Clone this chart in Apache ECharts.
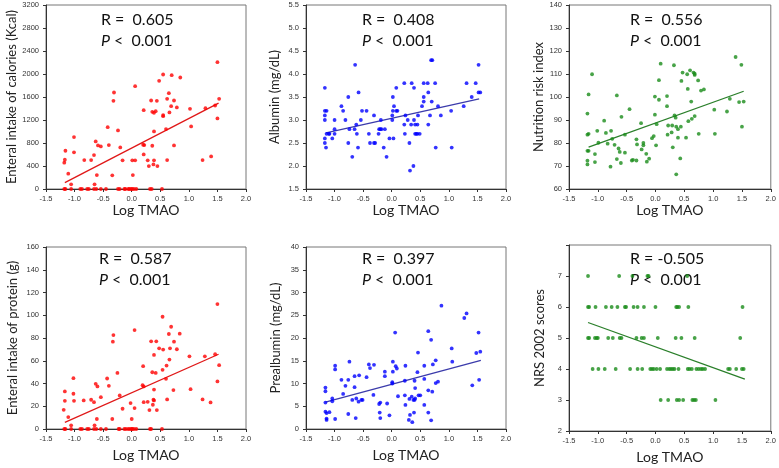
<!DOCTYPE html>
<html>
<head>
<meta charset="utf-8">
<script src="https://cdn.jsdelivr.net/npm/echarts@6/dist/echarts.min.js"></script>
<style>
  html, body { margin: 0; padding: 0; background: #fff; }
  #chart { width: 779px; height: 468px; }
</style>
</head>
<body>
<div id="chart"></div>
<script>
// x = Log TMAO, y = outcome
const calPoints = [
  [-1.18, 457], [-1.17, 509], [-1.16, 665], [-1.18, 0], [-1.16, 0], [-1.11, 266], [-1.06, 81], [-1.06, 0],
  [-1.01, 903], [-1.01, 637], [-0.90, 0], [-0.87, 0], [-0.83, 503], [-0.78, 0], [-0.75, 0], [-0.71, 503],
  [-0.66, 590], [-0.65, 81], [-0.63, 828], [-0.61, 243], [-0.59, 758], [-0.66, 0], [-0.62, 0], [-0.54, 741],
  [-0.54, 0], [-0.45, 0], [-0.42, 1076], [-0.40, 764], [-0.34, 237], [-0.32, 1534], [-0.31, 1678], [-0.24, 1019],
  [-0.24, 0], [-0.21, 0], [-0.20, 723], [-0.16, 498], [-0.13, 0], [-0.11, 0], [-0.06, 0], [-0.04, 0],
  [-0.01, 0], [0.01, 0], [0.04, 0], [0.08, 0], [0.01, 498], [0.02, 243], [0.06, 498], [0.06, 1788],
  [0.21, 1371], [0.20, 770], [0.21, 602], [0.22, 764], [0.28, 498], [0.30, 399], [0.32, 0], [0.35, 0],
  [0.34, 1539], [0.36, 1342], [0.36, 752], [0.38, 428], [0.39, 1325], [0.39, 1001], [0.39, 498], [0.42, 1354],
  [0.44, 1534], [0.45, 399], [0.48, 1881], [0.53, 0], [0.55, 1991], [0.55, 1285], [0.55, 1267], [0.60, 1042],
  [0.62, 1568], [0.62, 503], [0.65, 1667], [0.66, 1331], [0.69, 1441], [0.70, 1979], [0.74, 758], [0.74, 1539],
  [0.79, 1418], [0.85, 1939], [1.02, 1395], [1.04, 1088], [1.24, 503], [1.29, 1406], [1.39, 567], [1.46, 1452],
  [1.50, 2205], [1.50, 1227], [1.53, 1568]
]
const calFit = [[-1.17, 110], [1.52, 1493]]

const albPoints = [
  [-1.17, 3.7], [-1.17, 3.2], [-1.17, 3.1], [-1.17, 3.0], [-1.17, 2.6], [-1.17, 2.5], [-1.15, 2.4], [-1.14, 3.2],
  [-1.14, 2.7], [-1.10, 2.7], [-1.09, 2.7], [-1.04, 2.6], [-1.00, 3.0], [-1.00, 2.8], [-1.00, 2.7], [-0.88, 3.3],
  [-0.85, 3.2], [-0.81, 3.0], [-0.76, 3.5], [-0.76, 2.5], [-0.74, 2.8], [-0.69, 2.2], [-0.65, 2.8], [-0.64, 4.2],
  [-0.62, 2.9], [-0.61, 2.7], [-0.59, 2.4], [-0.58, 3.6], [-0.54, 3.0], [-0.52, 3.2], [-0.44, 3.2], [-0.40, 2.7],
  [-0.38, 2.5], [-0.31, 3.1], [-0.31, 2.5], [-0.29, 2.5], [-0.23, 2.7], [-0.22, 2.8], [-0.20, 2.8], [-0.18, 2.8],
  [-0.19, 3.0], [-0.14, 2.4], [-0.12, 2.8], [-0.09, 2.2], [-0.04, 2.6], [0.01, 3.0], [0.01, 3.1], [0.02, 3.5],
  [0.02, 3.2], [0.03, 2.6], [0.04, 3.3], [0.08, 3.7], [0.08, 3.2], [0.10, 3.2], [0.22, 3.8], [0.22, 2.9],
  [0.23, 2.7], [0.24, 3.1], [0.28, 3.0], [0.31, 2.5], [0.32, 1.9], [0.34, 2.9], [0.35, 3.8], [0.38, 2.0],
  [0.39, 3.7], [0.39, 3.0], [0.41, 2.9], [0.41, 2.7], [0.43, 2.7], [0.45, 2.9], [0.45, 2.7], [0.46, 3.1],
  [0.49, 2.7], [0.53, 3.3], [0.56, 3.8], [0.56, 3.5], [0.56, 3.4], [0.63, 3.8], [0.64, 2.9], [0.64, 3.6],
  [0.67, 3.1], [0.69, 4.3], [0.71, 4.3], [0.70, 3.4], [0.76, 3.8], [0.77, 2.4], [0.81, 3.3], [0.86, 3.1],
  [1.04, 3.2], [1.05, 2.4], [1.26, 3.3], [1.31, 3.8], [1.40, 3.5], [1.47, 3.8], [1.52, 4.2], [1.52, 3.6],
  [1.55, 3.6]
]
const albFit = [[-1.15, 2.72], [1.53, 3.46]]

const nriPoints = [
  [-1.18, 92.8], [-1.18, 83.6], [-1.18, 76.6], [-1.18, 72.3], [-1.18, 70.7], [-1.16, 84.0], [-1.16, 101.1], [-1.16, 76.6],
  [-1.10, 109.9], [-1.05, 75.2], [-1.05, 71.7], [-1.01, 85.3], [-0.99, 80.1], [-0.89, 89.7], [-0.86, 84.4], [-0.83, 79.7],
  [-0.77, 85.3], [-0.78, 69.7], [-0.75, 81.8], [-0.71, 79.2], [-0.67, 100.7], [-0.67, 73.0], [-0.64, 77.6], [-0.62, 76.1],
  [-0.60, 71.3], [-0.59, 91.4], [-0.53, 83.6], [-0.53, 75.8], [-0.45, 94.7], [-0.41, 72.4], [-0.39, 72.7], [-0.33, 72.4],
  [-0.33, 81.6], [-0.32, 79.4], [-0.25, 88.6], [-0.24, 77.2], [-0.21, 80.0], [-0.21, 79.0], [-0.16, 75.3], [-0.15, 71.9],
  [-0.11, 73.2], [-0.06, 82.1], [-0.03, 83.0], [-0.01, 92.3], [-0.01, 100.2], [0.01, 79.0], [0.02, 88.2], [0.06, 98.8],
  [0.06, 107.3], [0.09, 114.5], [0.20, 100.4], [0.20, 96.0], [0.21, 83.6], [0.22, 87.6], [0.28, 84.6], [0.29, 87.6],
  [0.30, 78.1], [0.32, 113.8], [0.33, 92.0], [0.35, 91.0], [0.36, 87.1], [0.36, 66.4], [0.39, 86.0], [0.39, 82.3],
  [0.43, 73.3], [0.44, 87.1], [0.45, 107.0], [0.47, 110.6], [0.53, 82.3], [0.55, 109.9], [0.56, 103.5], [0.57, 89.5],
  [0.60, 111.6], [0.62, 98.0], [0.63, 90.5], [0.66, 110.6], [0.68, 110.1], [0.68, 91.7], [0.68, 109.6], [0.74, 107.2],
  [0.75, 84.0], [0.79, 102.8], [0.84, 103.3], [1.02, 94.5], [1.03, 84.0], [1.24, 93.7], [1.29, 99.2], [1.39, 117.4],
  [1.45, 97.8], [1.49, 114.0], [1.50, 87.1], [1.53, 98.0]
]
const nriFit = [[-1.16, 78.2], [1.53, 102.5]]

const protPoints = [
  [-1.19, 16.9], [-1.17, 33.0], [-1.17, 24.8], [-1.18, 0], [-1.16, 0], [-1.11, 10.5], [-1.06, 3.2], [-1.06, 0],
  [-1.02, 44.7], [-1.02, 31.0], [-1.01, 24.8], [-0.90, 0], [-0.87, 0], [-0.84, 25.1], [-0.78, 0], [-0.75, 0],
  [-0.71, 25.7], [-0.66, 23.6], [-0.65, 3.2], [-0.63, 39.7], [-0.61, 8.8], [-0.60, 37.4], [-0.66, 0], [-0.62, 0],
  [-0.54, 28.0], [-0.54, 0], [-0.45, 0], [-0.43, 44.4], [-0.40, 38.0], [-0.34, 8.8], [-0.33, 76.8], [-0.32, 82.6],
  [-0.25, 49.3], [-0.23, 0], [-0.21, 0], [-0.21, 29.5], [-0.16, 17.8], [-0.13, 0], [-0.10, 0], [-0.06, 0],
  [-0.03, 0], [0.00, 0], [0.01, 0], [0.04, 0], [-0.02, 22.8], [0.00, 8.8], [0.05, 18.4], [0.05, 87.0],
  [0.08, 0], [0.19, 38.5], [0.20, 55.2], [0.21, 37.4], [0.21, 23.6], [0.28, 23.9], [0.31, 16.6], [0.32, 0],
  [0.34, 0], [0.34, 77.1], [0.36, 49.9], [0.37, 21.3], [0.38, 25.7], [0.39, 65.1], [0.39, 34.7], [0.39, 25.1],
  [0.42, 49.3], [0.43, 77.1], [0.44, 16.6], [0.48, 70.9], [0.53, 0], [0.54, 98.7], [0.54, 52.0], [0.55, 69.8],
  [0.60, 44.1], [0.61, 55.8], [0.62, 26.0], [0.65, 83.5], [0.66, 61.0], [0.67, 70.9], [0.69, 89.9], [0.73, 34.2],
  [0.74, 76.8], [0.79, 70.1], [0.84, 83.8], [1.01, 63.9], [1.03, 35.0], [1.24, 26.0], [1.28, 63.9], [1.38, 23.4],
  [1.46, 65.7], [1.50, 109.8], [1.50, 41.8], [1.53, 56.1]
]
const protFit = [[-1.17, 5.8], [1.52, 65.7]]

const prePoints = [
  [-1.16, 9.1], [-1.16, 8.3], [-1.16, 5.8], [-1.16, 3.8], [-1.14, 3.5], [-1.14, 2.3], [-1.14, 2.0], [-1.09, 3.7],
  [-1.04, 6.7], [-1.04, 6.1], [-0.99, 13.1], [-0.99, 13.9], [-0.99, 2.2], [-0.88, 10.8], [-0.81, 9.5], [-0.85, 7.7],
  [-0.74, 14.8], [-0.76, 10.8], [-0.76, 3.3], [-0.69, 6.4], [-0.65, 11.6], [-0.65, 9.2], [-0.63, 2.4], [-0.62, 6.7],
  [-0.57, 11.8], [-0.58, 6.0], [-0.53, 6.4], [-0.51, 6.4], [-0.44, 11.4], [-0.40, 14.2], [-0.38, 13.4], [-0.32, 7.5],
  [-0.31, 14.1], [-0.22, 5.5], [-0.21, 3.6], [-0.20, 5.8], [-0.20, 2.4], [-0.12, 11.6], [-0.12, 12.6], [-0.08, 5.6],
  [-0.04, 3.0], [0.02, 14.8], [0.01, 10.3], [0.01, 10.0], [0.02, 12.6], [0.06, 21.2], [0.07, 13.8], [0.09, 13.3],
  [0.11, 7.2], [0.24, 13.9], [0.23, 7.4], [0.24, 5.3], [0.23, 10.6], [0.30, 2.0], [0.31, 6.6], [0.32, 3.1],
  [0.35, 7.1], [0.36, 1.5], [0.39, 3.6], [0.38, 6.4], [0.40, 6.4], [0.41, 6.7], [0.41, 9.0], [0.40, 10.6],
  [0.45, 12.5], [0.46, 16.8], [0.47, 7.4], [0.50, 7.4], [0.57, 13.9], [0.57, 11.0], [0.57, 5.3], [0.64, 21.5],
  [0.64, 8.5], [0.64, 3.6], [0.69, 19.6], [0.69, 1.9], [0.71, 8.2], [0.72, 14.2], [0.77, 15.1], [0.77, 10.1],
  [0.81, 10.4], [0.87, 27.1], [1.05, 17.7], [1.06, 14.8], [1.27, 24.4], [1.31, 25.4], [1.41, 9.6], [1.48, 16.7],
  [1.52, 21.2], [1.53, 10.8], [1.55, 17.0]
]
const preFit = [[-1.16, 5.9], [1.56, 15.1]]

// NRS 2002 is an integer score, so the x positions are kept per score row
const nrs7 = [-1.17, -0.63, -0.40, -0.14, -0.12, 0.55]
const nrs6 = [-1.17, -1.15, -1.04, -0.86, -0.76, -0.66, -0.53, -0.51, -0.38, -0.31, -0.20, 0.00, 0.36, 0.38, 0.41, 0.57, 1.51]
const nrs5 = [-1.17, -1.15, -1.05, -1.02, -1.00, -0.82, -0.74, -0.62, -0.59, -0.33, -0.24, -0.20, 0.04, 0.35, 0.45, 0.68, 1.47]
const nrs4 = [-1.09, -0.99, -0.88, -0.69, -0.44, -0.31, -0.23, -0.09, -0.06, -0.03, 0.02, 0.08, 0.20, 0.24, 0.27, 0.30,
  0.33, 0.40, 0.56, 0.59, 0.63, 0.71, 0.75, 0.79, 0.82, 0.86, 1.26, 1.29, 1.40, 1.50, 1.53]
const nrs3 = [0.09, 0.22, 0.37, 0.41, 0.48, 0.64, 0.67, 0.70, 1.04]
const nrsFit = [[-1.17, 5.50], [1.55, 3.67]]

const yNames = ['Enteral intake of calories (Kcal)', 'Albumin (mg/dL)', 'Nutrition risk index',
  'Enteral intake of protein (g)', 'Prealbumin (mg/dL)', 'NRS 2002 scores']
const rTexts = ['R =  0.605', 'R =  0.408', 'R =  0.556', 'R =  0.587', 'R =  0.397', 'R = -0.505']
const pText = ' <  0.001'
const yRanges = [[0, 3200, 400], [1.5, 5.5, 0.5], [60, 140, 10], [0, 160, 20], [0, 40, 5], [2, 8, 1]]
const yDigits = [0, 1, 0, 0, 0, 0]

const nrsPoints = [].concat(
  nrs7.map(x => [x, 7]), nrs6.map(x => [x, 6]), nrs5.map(x => [x, 5]),
  nrs4.map(x => [x, 4]), nrs3.map(x => [x, 3])
)
const allPoints = [calPoints, albPoints, nriPoints, protPoints, prePoints, nrsPoints]
const allFits = [calFit, albFit, nriFit, protFit, preFit, nrsFit]

// layout (px)
const boxes = [[46, 5, 200, 184], [306, 5, 200, 184], [569, 5, 203, 184],
  [46, 247, 200, 182], [306, 247, 200, 182], [569, 245, 203, 186]]
const yNameGap = [27, 25, 24, 27, 24, 23]
const xNameGap = [11, 11, 11, 19, 19, 19]
const dotColors = ['#ff0000', '#0000ff', '#1a8c1a', '#ff0000', '#0000ff', '#1a8c1a']
const fitColors = ['#e01818', '#3b3bab', '#2a7f2a', '#e01818', '#3b3bab', '#2a7f2a']
const textLeft = [101, 362, 630, 99, 362, 630]
const textTop = [22, 22, 22, 261, 261, 261]

const axisColor = '#333'
const tickFont = {fontSize: 7.5, color: '#333', fontFamily: 'Liberation Sans, Arial, sans-serif'}
const nameFont = {fontSize: 13, color: '#222', fontFamily: 'Lato, sans-serif'}
const xNameFont = {fontSize: 14, color: '#222', fontFamily: 'Lato, sans-serif'}

const chart = echarts.init(document.getElementById('chart'), null, {renderer: 'canvas'})

function getOptions () {
  const grid = []
  const xAxis = []
  const yAxis = []
  const series = []
  const graphic = []
  boxes.forEach((b, i) => {
    grid.push({left: b[0], top: b[1], width: b[2], height: b[3], show: true, borderColor: '#777', borderWidth: 1, containLabel: false})
    xAxis.push({
      gridIndex: i,
      type: 'value',
      min: -1.5,
      max: 2.0,
      interval: 0.5,
      name: 'Log TMAO',
      nameLocation: 'middle',
      nameGap: xNameGap[i],
      nameTextStyle: xNameFont,
      axisLine: {show: true, onZero: false, lineStyle: {color: axisColor}},
      axisTick: {show: true, length: 3, lineStyle: {color: axisColor}},
      axisLabel: Object.assign({margin: 6, formatter: v => v.toFixed(1)}, tickFont),
      splitLine: {show: false}
    })
    const r = yRanges[i]
    yAxis.push({
      gridIndex: i,
      type: 'value',
      min: r[0],
      max: r[1],
      interval: r[2],
      name: yNames[i],
      nameLocation: 'middle',
      nameGap: yNameGap[i],
      nameTextStyle: nameFont,
      axisLine: {show: true, onZero: false, lineStyle: {color: axisColor}},
      axisTick: {show: true, length: 3, lineStyle: {color: axisColor}},
      axisLabel: Object.assign({
        margin: 7,
        formatter: v => (i === 5 && v === 8) ? '' : v.toFixed(yDigits[i])
      }, tickFont),
      splitLine: {show: false}
    })
    series.push({
      type: 'scatter',
      xAxisIndex: i,
      yAxisIndex: i,
      symbol: 'circle',
      symbolSize: 3.8,
      itemStyle: {color: dotColors[i]},
      data: allPoints[i],
      z: 3
    })
    series.push({
      type: 'line',
      xAxisIndex: i,
      yAxisIndex: i,
      showSymbol: false,
      symbol: 'none',
      lineStyle: {color: fitColors[i], width: 1.3},
      data: allFits[i],
      z: 2
    })
    const font = '16px Lato, sans-serif'
    graphic.push({
      type: 'text',
      left: textLeft[i],
      top: textTop[i] - 10,
      style: {text: rTexts[i], font: font, fill: '#111'}
    })
    graphic.push({
      type: 'text',
      left: textLeft[i],
      top: textTop[i] + 11,
      style: {
        text: '{i|P}' + pText,
        font: font,
        fill: '#111',
        rich: {i: {fontStyle: 'italic', fontSize: 16, fontFamily: 'Lato, sans-serif', fill: '#111'}}
      }
    })
  })
  return {
    backgroundColor: '#fff',
    animation: false,
    grid: grid,
    xAxis: xAxis,
    yAxis: yAxis,
    series: series,
    graphic: graphic
  }
}

chart.setOption(getOptions())
</script>
</body>
</html>
